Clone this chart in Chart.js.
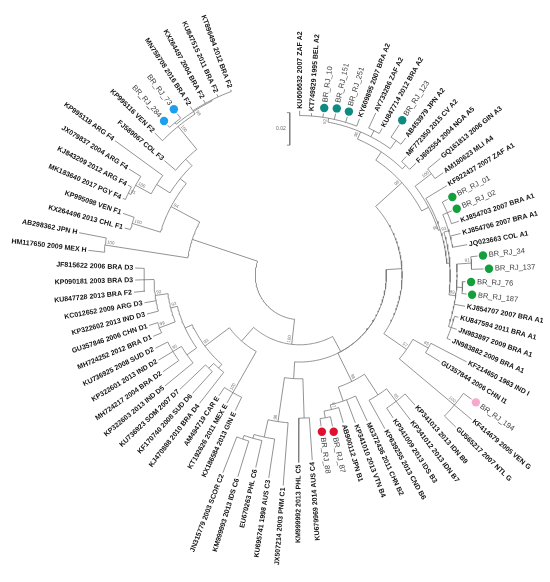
<!DOCTYPE html>
<html>
<head>
<meta charset="utf-8">
<script src="https://cdn.jsdelivr.net/npm/chart.js@4.4.1/dist/chart.umd.min.js"></script>
<style>
  html, body { margin: 0; padding: 0; background: #fff; }
  #wrap { width: 550px; height: 582px; }
</style>
</head>
<body>
<div id="wrap"><canvas id="tree" width="550" height="582"></canvas></div>
<script>
// leaf names, clockwise from the top of the circle
const leafNames = [
  "KU606632 2007 ZAF A2", "KT749829 1995 BEL A2", "BR_RJ_10", "BR_RJ_151", "BR_RJ_251",
  "KY609895 2007 BRA A2", "AY733286 ZAF A2", "KU847714 2012 BRA A2", "BR_RJ_123", "AB453979 JPN A2",
  "MF772350 2015 CV A2", "FJ692554 2004 NGA A5", "GQ161813 2006 GIN A3", "AM180623 MLI A4", "KF922437 2007 ZAF A1",
  "BR_RJ_01", "BR_RJ_02", "KJ854703 2007 BRA A1", "KJ854706 2007 BRA A1", "JQ023663 COL A1",
  "BR_RJ_34", "BR_RJ_137", "BR_RJ_76", "BR_RJ_187", "KJ854707 2007 BRA A1",
  "KU847594 2011 BRA A1", "JN983897 2009 BRA A1", "JN983882 2009 BRA A1", "KF214650 1963 IND I", "GU357844 2006 CHN I1",
  "BR_RJ_194", "KF414679 2005 VEN G", "GU565217 2007 NTL G", "KP341013 2013 IDN B9", "KP341012 2013 IDN B7",
  "KP341009 2013 IDS B3", "KP639255 2013 CND B6", "MG372436 2011 CHN B2", "KP341010 2013 VTN B4", "AB900112 JPN B1",
  "BR_RJ_87", "BR_RJ_88", "KU679969 2014 AUS C4", "KM999992 2013 PHL C5", "JX507214 2003 PNM C1",
  "KU695741 1998 AUS C3", "EU670263 PHL C6", "KM999993 2013 IDS C6", "JN315779 2003 SCOR C2", "KX186584 2013 GIN E",
  "KT192626 2011 MEX E", "AM494719 CAR E", "KJ470888 2010 BRA D4", "KF170740 2008 SUD D6", "KU736923 SOM 2007 D7",
  "KP322603 2013 IND D5", "MH724217 2004 BRA D2", "KP322601 2013 IND D2", "KU736925 2008 SUD D2", "MH724252 2012 BRA D1",
  "GU357846 2006 CHN D1", "KP322602 2013 IND D3", "KC012652 2009 ARG D3", "KU847728 2013 BRA F2", "KP090181 2003 BRA D3",
  "JF815622 2006 BRA D3", "HM117650 2009 MEX H", "AB298362 JPN H", "KX264496 2013 CHL F1", "KP995098 VEN F1",
  "MK183640 2017 PGY F4", "KJ843209 2012 ARG F4", "JX079837 2004 ARG F4", "KP995118 ARG F4", "FJ589067 COL F3",
  "KP995116 VEN F2", "BR_RJ_284", "BR_RJ_73", "MN758708 2016 BRA F2", "KX264497 2004 BRA F2",
  "KU847515 2011 BRA F2", "KT896494 2012 BRA F2"
];

// clades in newick, leaves given by their number in leafNames, lengths in subst./site, bootstrap as node label
const cladeA2 = "(((1:.0030,2:.0018,3:.0024,4:.0036,5:.0036,6:.0048)92:.0024,(7:.0103,8:.0036):.0042,(9:.0091,10:.0048):.0061)96:.0048,(11:.0042,12:.0055):.0030):.0061";
const cladeA1 = "((13:.0103,14:.0061)100:.0127,(15:.0152,(((16:.0036,17:.0030,18:.0048):.0030,19:.0067,20:.0091)93:.0030,((21:.0042,22:.0073)91:.0091,(23:.0018,24:.0030):.0036,25:.0067,(26:.0024,27:.0036,28:.0024):.0018)89:.0042):.0018)96:.0012):.0048";
const cladeIG = "((29:.0248,30:.0103)85:.0109,(31:.0061,32:.0139,33:.0097)100:.0442)57:.0170";
const cladeB = "(((34:.0091,35:.0145,36:.0073)85:.0097,37:.0200):.0152,(38:.0170,39:.0152,(40:.0097,(41:.0061,42:.0048):.0042)87:.0030):.0091)98:.0194";
const cladeC = "((43:.0261,44:.0273):.0242,(45:.0388,(46:.0242,(47:.0170,(48:.0230,49:.0236):.0024):.0024):.0109)98:.0273):.0103";
const cladeE = "(50:.0091,51:.0073,52:.0061)100:.0291";
const cladeD = "((53:.0242,(54:.0182,55:.0218):.0042):.0030,((56:.0224,(57:.0121,58:.0103,59:.0085)95:.0061):.0073,((60:.0055,61:.0055)99:.0103,(62:.0073,63:.0073,(64:.0067,65:.0055,66:.0055):.0061)92:.0079)93:.0042):.0048)93:.0188";
const cladeH = "(67:.0097,68:.0170)100:.0515";
const cladeF = "((69:.0036,70:.0073)100:.0182,((((71:.0018,72:.0024)91:.0018,73:.0085)100:.0109,74:.0364):.0097,(75:.0091,(76:.0067,((77:.0018,78:.0036):.0012,(79:.0030,80:.0024,81:.0018,82:.0012):.0006)98:.0018)100:.0182):.0055):.0048)94:.0200";

const treeNewick =
  "((((((" + cladeA2 + "," + cladeA1 + ")98:.0218," + cladeIG + "):.0097," + cladeB + "):0," + cladeC + "):.0106," +
  "(" + cladeE + "," + cladeD + "):.0112)100:.0155," +
  "(" + cladeH + "," + cladeF + "):.0424);";

const markedLeaves = ["BR_RJ_10", "BR_RJ_151", "BR_RJ_251", "BR_RJ_123",
  "BR_RJ_01", "BR_RJ_02", "BR_RJ_34", "BR_RJ_137", "BR_RJ_76", "BR_RJ_187",
  "BR_RJ_194", "BR_RJ_87", "BR_RJ_88", "BR_RJ_284", "BR_RJ_73"];
const markColors = ["#0f8a80", "#0f8a80", "#0f8a80", "#0f8a80",
  "#13a03c", "#13a03c", "#13a03c", "#13a03c", "#13a03c", "#13a03c",
  "#f6a9cc", "#e30f2e", "#e30f2e", "#1c9fee", "#1c9fee"];

const scaleBarValue = 0.02;
const scaleBarText = "0.02";

// layout of the circular tree
const PX_PER_UNIT = 1650;
const ROOT_R = 45;
const START_ANGLE = -90;
const ANGLE_SPAN = 339.6;

function parseNewick(s) {
  let i = 0;
  function node() {
    const n = { children: [] };
    if (s[i] === "(") {
      i++;
      n.children.push(node());
      while (s[i] === ",") { i++; n.children.push(node()); }
      i++;
    }
    let lab = "";
    while (i < s.length && ":,);".indexOf(s[i]) < 0) lab += s[i++];
    n.label = lab;
    n.len = 0;
    if (s[i] === ":") {
      i++;
      let num = "";
      while (i < s.length && ",);".indexOf(s[i]) < 0) num += s[i++];
      n.len = parseFloat(num);
    }
    return n;
  }
  return node();
}

const root = parseNewick(treeNewick);
const leaves = [];
(function collect(n) {
  if (!n.children.length) leaves.push(n); else n.children.forEach(collect);
})(root);

const step = ANGLE_SPAN / (leaves.length - 1);
leaves.forEach(function(lf, k) {
  lf.angle = START_ANGLE + k * step;
  lf.name = leafNames[parseInt(lf.label, 10) - 1];
});

const innerNodes = [];
function place(n, r) {
  n.r = r;
  if (n.children.length) {
    n.children.forEach(function(c) { place(c, r + c.len * PX_PER_UNIT); });
    n.angle = (n.children[0].angle + n.children[n.children.length - 1].angle) / 2;
    innerNodes.push(n);
  }
}
place(root, ROOT_R);

function pt(r, deg) {
  const a = deg * Math.PI / 180;
  return { x: r * Math.cos(a), y: -r * Math.sin(a) };
}

const branchPts = [];
function walk(n, parent) {
  if (parent) branchPts.push(pt(parent.r, n.angle), pt(n.r, n.angle), { x: null, y: null });
  if (n.children.length) {
    const a0 = n.children[0].angle, a1 = n.children[n.children.length - 1].angle;
    const k = Math.max(2, Math.ceil(Math.abs(a1 - a0)) + 1);
    for (let j = 0; j < k; j++) branchPts.push(pt(n.r, a0 + (a1 - a0) * j / (k - 1)));
    branchPts.push({ x: null, y: null });
    n.children.forEach(function(c) { walk(c, n); });
  }
}
walk(root, null);

// dots sit just past the tip
const dotPts = [], dotCols = [];
leaves.forEach(function(lf) {
  const m = markedLeaves.indexOf(lf.name);
  if (m >= 0) { dotPts.push(pt(lf.r + 5.5, lf.angle)); dotCols.push(markColors[m]); }
});

// scale bar, vertical, left of the top clade
const barX = -10, barTop = 165;
const barLen = scaleBarValue * PX_PER_UNIT;
const barPts = [
  { x: barX - 3, y: barTop }, { x: barX, y: barTop }, { x: barX, y: barTop - barLen }, { x: barX - 3, y: barTop - barLen }
];

const FONT = '"Liberation Sans", Arial, sans-serif';

const labelPlugin = {
  id: "leafLabels",
  afterDatasetsDraw(chart) {
    const ctx = chart.ctx;
    const xs = chart.scales.x, ys = chart.scales.y;
    function toPx(p) { return [xs.getPixelForValue(p.x), ys.getPixelForValue(p.y)]; }
    function drawRot(text, p, angle, offset) {
      const flip = angle > 85 && angle < 265;
      const q = toPx(p);
      ctx.save();
      ctx.translate(q[0], q[1]);
      ctx.rotate((flip ? angle + 180 : angle) * Math.PI / 180);
      ctx.textAlign = flip ? "right" : "left";
      ctx.textBaseline = "middle";
      ctx.fillText(text, 0, offset || 0);
      ctx.restore();
    }
    ctx.save();
    leaves.forEach(function(lf) {
      const marked = markedLeaves.indexOf(lf.name) >= 0;
      if (marked) {
        ctx.font = "7.5px " + FONT;
        ctx.fillStyle = "#3c3c3c";
        drawRot(lf.name, pt(lf.r + 11.5, lf.angle), lf.angle);
      } else {
        ctx.font = "bold 7px " + FONT;
        ctx.fillStyle = "#111";
        drawRot(lf.name, pt(lf.r + 2, lf.angle), lf.angle);
      }
    });

    // bootstrap values beside the node
    ctx.font = "4.5px " + FONT;
    ctx.fillStyle = "#777";
    innerNodes.forEach(function(n) {
      if (!n.label) return;
      const flip = n.angle > 85 && n.angle < 265;
      const p = pt(n.r - 1.5, n.angle);
      const q = toPx(p);
      ctx.save();
      ctx.translate(q[0], q[1]);
      ctx.rotate((flip ? n.angle + 180 : n.angle) * Math.PI / 180);
      ctx.textAlign = flip ? "left" : "right";
      ctx.textBaseline = "middle";
      ctx.fillText(n.label, 0, -3);
      ctx.restore();
    });

    const s = toPx({ x: barX - 4, y: barTop - barLen / 2 });
    ctx.font = "5px " + FONT;
    ctx.fillStyle = "#666";
    ctx.textAlign = "right";
    ctx.textBaseline = "middle";
    ctx.fillText(scaleBarText, s[0], s[1]);
    ctx.restore();
  }
};

new Chart(document.getElementById("tree").getContext("2d"), {
  type: "line",
  data: {
    datasets: [
      { data: branchPts, borderColor: "#777", borderWidth: 0.8, pointRadius: 0, spanGaps: false, fill: false, tension: 0 },
      { data: barPts, borderColor: "#777", borderWidth: 0.8, pointRadius: 0, fill: false, tension: 0 },
      { data: dotPts, showLine: false, pointRadius: 4.2, pointBorderWidth: 0, pointBackgroundColor: dotCols, pointBorderColor: dotCols }
    ]
  },
  options: {
    responsive: false,
    animation: false,
    events: [],
    layout: { padding: 0 },
    plugins: { legend: { display: false }, tooltip: { enabled: false } },
    scales: {
      x: { type: "linear", min: -300, max: 250, display: false },
      y: { type: "linear", min: -307, max: 275, display: false }
    }
  },
  plugins: [labelPlugin]
});
</script>
</body>
</html>
